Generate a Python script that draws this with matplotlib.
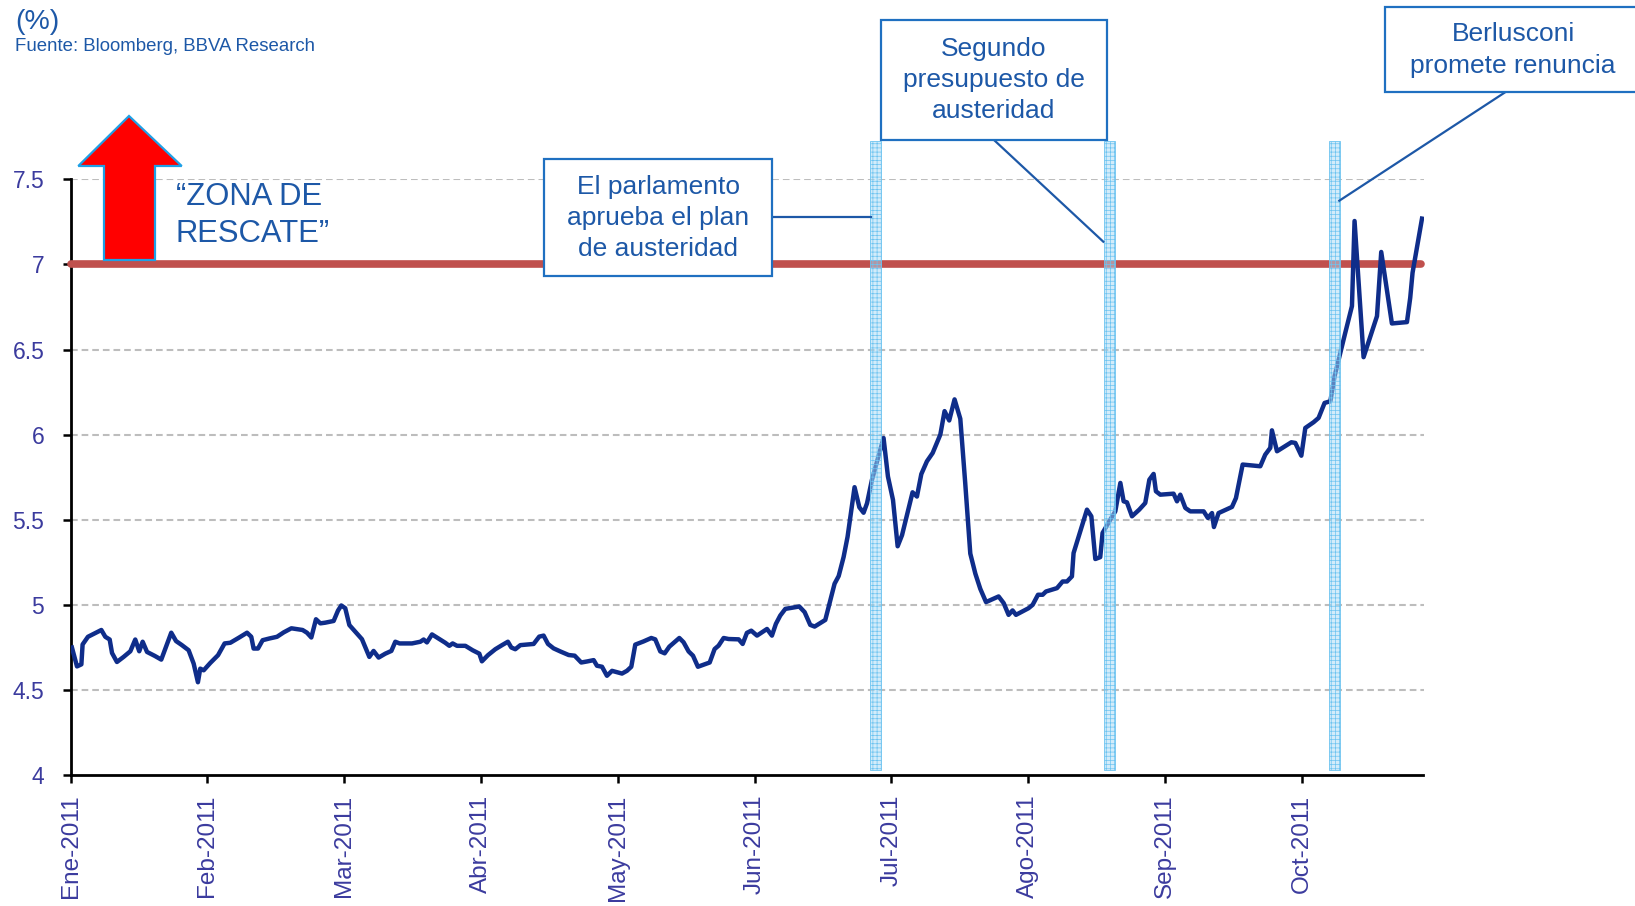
import matplotlib
matplotlib.use("Agg")
import matplotlib.pyplot as plt
from matplotlib.patches import Rectangle, Polygon
from matplotlib.lines import Line2D

plt.rcParams['font.family'] = ['Liberation Sans', 'DejaVu Sans']
plt.rcParams['hatch.linewidth'] = 0.5

# ---------------- data ----------------
month_labels = ["Ene-2011", "Feb-2011", "Mar-2011", "Abr-2011", "May-2011",
                "Jun-2011", "Jul-2011", "Ago-2011", "Sep-2011", "Oct-2011"]
month_pos = list(range(len(month_labels)))

y_ticks = [4, 4.5, 5, 5.5, 6, 6.5, 7, 7.5]
y_tick_labels = ["4", "4.5", "5", "5.5", "6", "6.5", "7", "7.5"]

x_pos = [
    0.009, 0.046, 0.078, 0.087, 0.126, 0.175, 0.224, 0.253, 0.285, 0.302,
    0.338, 0.387, 0.436, 0.472, 0.501, 0.526, 0.558, 0.614, 0.662, 0.735,
    0.770, 0.813, 0.862, 0.899, 0.930, 0.947, 0.972, 1.020, 1.077, 1.125,
    1.167, 1.228, 1.289, 1.320, 1.337, 1.369, 1.403, 1.452, 1.508, 1.557,
    1.613, 1.695, 1.727, 1.759, 1.793, 1.825, 1.861, 1.922, 1.954, 1.978,
    2.007, 2.037, 2.080, 2.129, 2.183, 2.214, 2.251, 2.300, 2.344, 2.373,
    2.404, 2.495, 2.556, 2.580, 2.604, 2.641, 2.677, 2.738, 2.768, 2.792,
    2.824, 2.885, 2.938, 2.987, 3.006, 3.050, 3.104, 3.153, 3.196, 3.221,
    3.250, 3.287,
    3.384, 3.425, 3.457, 3.489, 3.530, 3.579, 3.640, 3.684, 3.732, 3.774,
    3.823, 3.847, 3.884, 3.920, 3.957, 4.030, 4.066, 4.098, 4.127, 4.188,
    4.244, 4.273, 4.310, 4.342, 4.376, 4.449, 4.480, 4.517, 4.549, 4.585,
    4.671, 4.707, 4.736, 4.773, 4.809, 4.883, 4.912, 4.943, 4.975, 5.017,
    5.090, 5.126, 5.155, 5.187, 5.224, 5.326, 5.365, 5.406, 5.438, 5.516,
    5.553, 5.584, 5.614, 5.650, 5.679, 5.730, 5.765, 5.796, 5.821, 5.857,
    5.906, 5.942, 5.974, 6.011, 6.045, 6.077, 6.154, 6.186, 6.218, 6.259,
    6.301, 6.357, 6.388, 6.422, 6.461, 6.503, 6.539, 6.576, 6.613, 6.649,
    6.691,
    6.783, 6.820, 6.856, 6.885, 6.910, 7.002, 7.032, 7.071, 7.105, 7.129,
    7.210, 7.251, 7.283, 7.319, 7.331, 7.429, 7.461, 7.490, 7.526, 7.543,
    7.599, 7.636, 7.673, 7.697, 7.721, 7.758, 7.811, 7.855, 7.885, 7.916,
    7.933, 7.965, 8.062, 8.087, 8.111, 8.148, 8.184, 8.282, 8.313, 8.343,
    8.357, 8.391, 8.489, 8.518, 8.567, 8.696, 8.732, 8.769, 8.781, 8.818,
    8.923, 8.952, 8.996, 9.025, 9.086, 9.122, 9.166, 9.208, 9.239, 9.269,
    9.317, 9.366, 9.385, 9.451, 9.549, 9.580, 9.658, 9.768, 9.792, 9.809,
    9.878,
]

yields = [
    4.749, 4.638, 4.650, 4.767, 4.812, 4.832, 4.852, 4.812, 4.796, 4.717,
    4.664, 4.694, 4.727, 4.796, 4.727, 4.783, 4.723, 4.700, 4.678, 4.836,
    4.787, 4.763, 4.733, 4.654, 4.545, 4.625, 4.615, 4.658, 4.704, 4.773,
    4.777, 4.806, 4.836, 4.812, 4.743, 4.743, 4.792, 4.802, 4.812, 4.838,
    4.862, 4.852, 4.836, 4.808, 4.915, 4.891, 4.895, 4.905, 4.966, 4.996,
    4.980, 4.881, 4.842, 4.798, 4.694, 4.729, 4.690, 4.713, 4.729, 4.783,
    4.773, 4.773, 4.783, 4.796, 4.779, 4.826, 4.808, 4.777, 4.759, 4.773,
    4.759, 4.759, 4.733, 4.713, 4.668, 4.704, 4.739, 4.763, 4.783, 4.749,
    4.739, 4.763,
    4.770, 4.813, 4.819, 4.770, 4.744, 4.726, 4.705, 4.701, 4.661, 4.667,
    4.675, 4.642, 4.636, 4.583, 4.612, 4.596, 4.612, 4.636, 4.766, 4.785,
    4.805, 4.797, 4.726, 4.715, 4.754, 4.805, 4.780, 4.726, 4.701, 4.636,
    4.661, 4.740, 4.760, 4.805, 4.799, 4.797, 4.770, 4.835, 4.848, 4.819,
    4.858, 4.819, 4.888, 4.937, 4.976, 4.990, 4.957, 4.882, 4.872, 4.911,
    5.026, 5.124, 5.169, 5.281, 5.400, 5.691, 5.573, 5.541, 5.596, 5.734,
    5.876, 5.980, 5.754, 5.616, 5.344, 5.409, 5.661, 5.636, 5.768, 5.843,
    5.892, 6.000, 6.138, 6.083, 6.207, 6.093, 5.715, 5.301, 5.183, 5.094,
    5.016,
    5.049, 5.010, 4.941, 4.967, 4.941, 4.980, 5.000, 5.059, 5.059, 5.078,
    5.098, 5.137, 5.137, 5.167, 5.304, 5.559, 5.520, 5.269, 5.280, 5.422,
    5.500, 5.549, 5.716, 5.608, 5.602, 5.520, 5.559, 5.598, 5.735, 5.769,
    5.667, 5.647, 5.653, 5.608, 5.647, 5.569, 5.549, 5.549, 5.510, 5.539,
    5.457, 5.539, 5.575, 5.627, 5.824, 5.814, 5.882, 5.922, 6.025, 5.902,
    5.955, 5.951, 5.876, 6.039, 6.073, 6.098, 6.186, 6.196, 6.343, 6.441,
    6.598, 6.755, 7.255, 6.455, 6.696, 7.073, 6.653, 6.661, 6.804, 6.951,
    7.269,
]

rescue_level = 7.0
event_x = [5.845, 7.551, 9.200]          # shaded event markers (month units)
event_texts = ["El parlamento\naprueba el plan\nde austeridad",
               "Segundo\npresupuesto de\nausteridad",
               "Berlusconi\npromete renuncia"]

# ---------------- figure ----------------
W, H, DPI = 1635, 906, 100
fig = plt.figure(figsize=(W / DPI, H / DPI), dpi=DPI)
fig.patch.set_facecolor("white")


def fx(px):
    return px / W


def fy(py):
    return 1 - py / H


ax_left, ax_right, ax_top, ax_bottom = 70.7, 1423.5, 179.3, 775.0
ax = fig.add_axes([fx(ax_left), fy(ax_bottom),
                   (ax_right - ax_left) / W, (ax_bottom - ax_top) / H])
ax.set_xlim(0, 9.889)
ax.set_ylim(4, 7.5)

tick_color = "#3b3b9e"
text_blue = "#1d58a7"
box_blue = "#1f70c1"

for s in ["top", "right"]:
    ax.spines[s].set_visible(False)
for s in ["left", "bottom"]:
    ax.spines[s].set_linewidth(2.0)
    ax.spines[s].set_color("black")

ax.set_yticks(y_ticks)
ax.set_yticklabels(y_tick_labels)
ax.set_xticks(month_pos)
ax.set_xticklabels(month_labels, rotation=90)
ax.tick_params(axis="y", length=6, width=1.8, pad=13, labelsize=16.5,
               labelcolor=tick_color, color="black")
ax.tick_params(axis="x", length=6, width=1.8, pad=8, labelsize=17.5,
               labelcolor=tick_color, color="black")

# grid lines
for v in y_ticks[1:]:
    ax.axhline(v, color="#bdbdbd", lw=1.5, linestyle=(0, (3.2, 1.9)), zorder=1)

# rescue line
ax.plot([0, 9.87], [rescue_level, rescue_level], color="#c0504d", lw=5.5,
        solid_capstyle="round", zorder=3, clip_on=False)

# series
ax.plot(x_pos, yields, color="#0f2d8a", lw=3.2, solid_joinstyle="round",
        zorder=4)

# event bands
for ex in event_x:
    r = Rectangle((ex, 4.03), 0.08, 7.726 - 4.03,
                  facecolor=(0.66, 0.86, 0.97, 0.5), edgecolor="#6cc3f0",
                  hatch="++++", lw=0.6, zorder=5, clip_on=False)
    ax.add_patch(r)

# ---------------- annotations (figure coords) ----------------
def box(x0, y0, x1, y1):
    fig.patches.append(Rectangle((fx(x0), fy(y1)), (x1 - x0) / W, (y1 - y0) / H,
                                 transform=fig.transFigure, facecolor="white",
                                 edgecolor=box_blue, lw=1.6, zorder=10))


def line(x0, y0, x1, y1):
    fig.lines.append(Line2D([fx(x0), fx(x1)], [fy(y0), fy(y1)],
                            transform=fig.transFigure, color=text_blue,
                            lw=1.6, zorder=9))


LS = 1.37
box(544.3, 159.3, 771.7, 275.7)
fig.text(fx(658), fy(218), event_texts[0], ha="center", va="center",
         fontsize=19, color=text_blue, linespacing=LS, zorder=11)
line(771.7, 217.3, 870.7, 217.3)

box(880.7, 20, 1106.7, 140)
fig.text(fx(994), fy(80), event_texts[1], ha="center", va="center",
         fontsize=19, color=text_blue, linespacing=LS, zorder=11)
line(994, 140, 1103.3, 241.7)

box(1385, 7.3, 1650, 91.7)
fig.text(fx(1513), fy(50), event_texts[2], ha="center", va="center",
         fontsize=19, color=text_blue, linespacing=LS, zorder=11)
line(1506, 91.7, 1339.3, 200.7)

# arrow
arrow_px = [(104, 260), (104, 166), (78.3, 166), (129, 116), (181.7, 166),
            (155, 166), (155, 260)]
fig.patches.append(Polygon([(fx(a), fy(b)) for a, b in arrow_px], closed=True,
                           transform=fig.transFigure, facecolor="#ff0000",
                           edgecolor="#1ea0e6", lw=1.6, zorder=8))

fig.text(fx(175.7), fy(205), "\u201cZONA DE", ha="left", va="baseline",
         fontsize=22.3, color=text_blue)
fig.text(fx(175.7), fy(242), "RESCATE\u201d", ha="left", va="baseline",
         fontsize=22.3, color=text_blue)

# header
fig.text(fx(15), fy(29), "(%)", ha="left", va="baseline", fontsize=20.5,
         color=text_blue)
fig.text(fx(15), fy(51), "Fuente: Bloomberg, BBVA Research", ha="left",
         va="baseline", fontsize=13.4, color=text_blue)

fig.savefig("out.png", dpi=DPI)
